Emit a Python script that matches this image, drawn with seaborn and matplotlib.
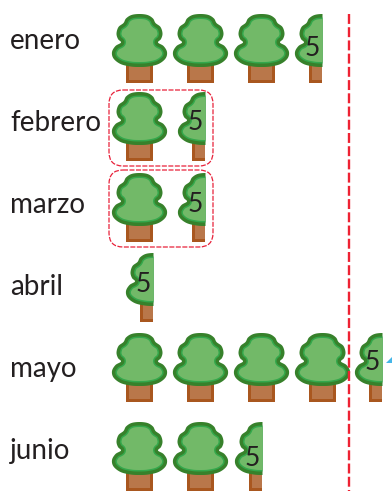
"""Pictograma de arboles por mes: cada arbol vale 10 y medio arbol vale 5"""
import matplotlib.pyplot as plt
from matplotlib.patches import FancyBboxPatch
from matplotlib.path import Path
import numpy as np
import pandas as pd
import seaborn as sns

months = ['enero', 'febrero', 'marzo', 'abril', 'mayo', 'junio']
values = [35, 15, 15, 5, 45, 25]
tree_value = 10
half_label = '5'
grouped_months = ['febrero', 'marzo']

# Layout in reference pixels, separate from the data
label_y = [41, 123, 205, 287, 369, 451]
tree_y = [48, 126, 207, 287, 367, 456]
five_y = [48, 122, 204, 284, 362, 459]
first_x = 139
step_x = 61
half_x = [322, 205, 205, 153, 382, 262]
boxes = {'febrero': (90, 166), 'marzo': (170, 247)}

sns.set_theme(style='white')
plt.rcParams['font.family'] = ['Lato', 'DejaVu Sans']


def smooth(points, steps=12):
    """Closed Catmull-Rom curve through the outline points"""
    p = np.asarray(points, float)
    out = []
    for i in range(len(p)):
        p0, p1, p2, p3 = p[i - 1], p[i], p[(i + 1) % len(p)], p[(i + 2) % len(p)]
        for t in np.linspace(0, 1, steps, endpoint=False):
            out.append(0.5 * (2 * p1 + (p2 - p0) * t
                              + (2 * p0 - 5 * p1 + 4 * p2 - p3) * t ** 2
                              + (3 * p1 - p0 - 3 * p2 + p3) * t ** 3))
    return np.array(out)


def inset(curve, d):
    """Moves a clockwise-on-screen outline inwards by d pixels"""
    tangent = np.roll(curve, -1, axis=0) - np.roll(curve, 1, axis=0)
    tangent /= np.linalg.norm(tangent, axis=1, keepdims=True)
    normal = np.column_stack([-tangent[:, 1], tangent[:, 0]])
    return curve + d * normal


def marker(curve, half=False):
    """Path for a scatter marker, with a stub that fixes its scale"""
    verts = curve.copy()
    if half:
        verts[:, 0] = np.minimum(verts[:, 0], 0)
    verts = verts / 50 * [1, -1]
    all_verts = np.vstack([[[1, 1]], verts, verts[:1]])
    codes = [Path.MOVETO, Path.MOVETO] + [Path.LINETO] * (len(verts) - 1) + [Path.CLOSEPOLY]
    return Path(all_verts, codes)


# Outline relative to the tree centre, y down in pixels
right = [(8, -33.5), (13.5, -30), (16, -25.5), (21, -21.5), (23, -15), (21.5, -9.5),
         (18.5, -6), (24, -2.5), (27.5, 3.5), (26, 10), (19, 15.5), (9, 18)]
left = [(-x, y) for x, y in reversed(right)]
crown = smooth([(0, -34.5)] + right + [(0, 18.5)] + left)
trunk_outer = np.array([(-13.5, 12), (13.5, 12), (13.5, 34.5), (-13.5, 34.5)])
trunk_inner = np.array([(-10.5, 12), (10.5, 12), (10.5, 32), (-10.5, 32)])

layers = [(trunk_outer, '#a9571f'), (trunk_inner, '#b9774a'),
          (crown, '#37812b'), (inset(crown, 3.5), '#34a84c'),
          (inset(crown, 5), '#72b968')]

rows = []
for row, (month, value) in enumerate(zip(months, values)):
    for i in range(value // tree_value):
        rows.append({'x': first_x + step_x * i, 'y': tree_y[row], 'half': False})
    if value % tree_value:
        rows.append({'x': half_x[row], 'y': tree_y[row], 'half': True})
trees = pd.DataFrame(rows)

figure = plt.figure(figsize=(3.92, 4.91), dpi=100)
axes = figure.add_axes([0, 0, 1, 1])

for half, group in trees.groupby('half'):
    for shape, color in layers:
        sns.scatterplot(data=group, x='x', y='y', ax=axes, marker=marker(shape, half),
                        s=72 ** 2, color=color, linewidth=0, legend=False, clip_on=True)

for row, month in enumerate(months):
    axes.text(10, label_y[row], month, fontsize=20, color='#231f20', ha='left', va='center')
    if values[row] % tree_value:
        axes.text(half_x[row] - 10, five_y[row], half_label, fontsize=19, color='#231f20',
                  ha='center', va='center')

for month in grouped_months:
    top, bottom = boxes[month]
    axes.add_patch(FancyBboxPatch((117, top + 8), 88, bottom - top - 16,
                                  boxstyle='round,pad=8,rounding_size=14', fill=False,
                                  edgecolor='#e8213a', linewidth=0.9, linestyle=(0, (4, 1.2))))

axes.plot([349, 349], [14, 491], color='#ee2233', linewidth=1.7, linestyle=(0, (4.2, 1.4)))
axes.fill([386, 392, 392], [363, 357, 363], color='#45b6e8', linewidth=0)

axes.set_xlim(0, 392)
axes.set_ylim(491, 0)
axes.set_axis_off()
figure.savefig('out.png', dpi=100)
